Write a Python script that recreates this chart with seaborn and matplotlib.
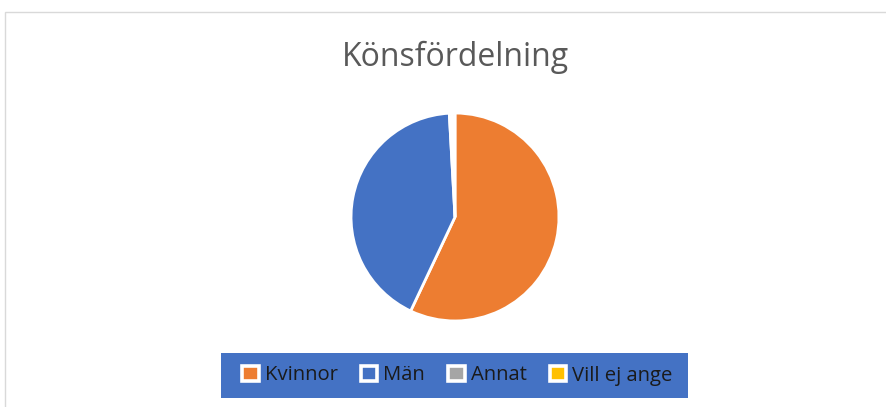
import matplotlib
matplotlib.use('Agg')
import matplotlib.pyplot as plt
import matplotlib.patches as mpatches
import seaborn as sns

# data
CATEGORIES = ['Kvinnor', 'Män', 'Annat', 'Vill ej ange']
VALUES = [65, 48, 0.5, 0.5]
COLORS = ['#ED7D31', '#4472C4', '#A5A5A5', '#FFC000']
TITLE = 'Könsfördelning'

sns.set_theme(style='white')
plt.rcParams['font.family'] = ['Open Sans', 'DejaVu Sans']

W, H = 887, 407
fig = plt.figure(figsize=(W / 100, H / 100), dpi=100)
fig.patch.set_facecolor('white')

# chart area frame (only top and left edge visible in the crop)
frame = mpatches.Rectangle((5.5 / W, -0.1), 1.2, 1 - 11.5 / H + 0.1,
                           transform=fig.transFigure, fill=False,
                           edgecolor='#D9D9D9', linewidth=1.0)
fig.patches.append(frame)

fig.text(455.5 / W, 1 - 57 / H, TITLE, ha='center', va='center',
         fontsize=23, color='#595959')

# pie
cx, cy, r = 455, 217, 105
ax = fig.add_axes([(cx - r) / W, (H - cy - r) / H, 2 * r / W, 2 * r / H])
ax.pie(VALUES, colors=COLORS, startangle=90, counterclock=False, radius=1,
       wedgeprops=dict(edgecolor='white', linewidth=2.0))
ax.set_xlim(-1.01, 1.01)
ax.set_ylim(-1.01, 1.01)
ax.set_aspect('equal')
ax.axis('off')

# legend in a blue box
lx0, lx1, ly0, ly1 = 221, 688, 353, 398
box = mpatches.Rectangle((lx0 / W, 1 - ly1 / H), (lx1 - lx0) / W, (ly1 - ly0) / H,
                         transform=fig.transFigure, facecolor='#4472C4',
                         edgecolor='none')
fig.patches.append(box)

handles = [mpatches.Patch(facecolor=c, edgecolor='white', linewidth=2.6, label=n)
           for n, c in zip(CATEGORIES, COLORS)]
leg = fig.legend(handles=handles, loc='center',
                 bbox_to_anchor=((lx0 + lx1 + 6) / 2 / W, 1 - (ly0 + ly1) / 2 / H),
                 ncol=4, frameon=False, fontsize=14.6, handlelength=0.8,
                 handleheight=0.8, handletextpad=0.3, columnspacing=1.15)
for t in leg.get_texts():
    t.set_color('#1a1a1a')

fig.savefig('out.png', dpi=100)
